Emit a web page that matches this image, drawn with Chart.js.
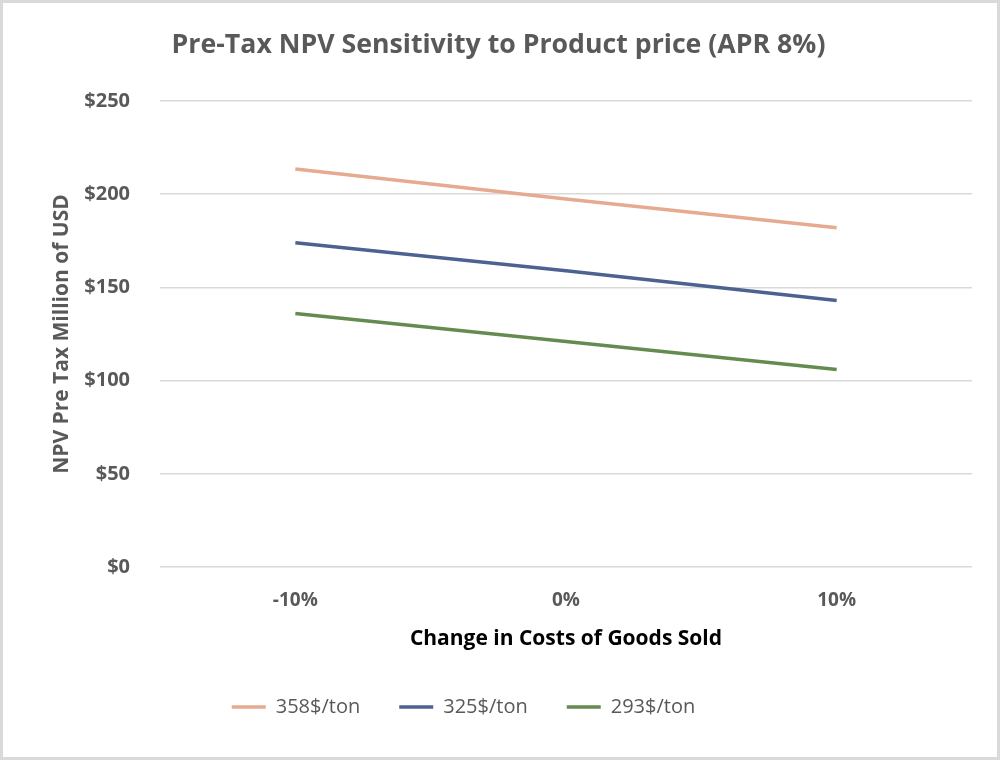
<!DOCTYPE html>
<html>
<head>
<meta charset="utf-8">
<script src="https://cdn.jsdelivr.net/npm/chart.js@4/dist/chart.umd.min.js"></script>
<style>
  html, body { margin: 0; padding: 0; background: #ffffff; }
  #wrap { width: 1000px; height: 760px; box-sizing: border-box; border: 3px solid #d9d9d9; background: #fff; }
  canvas { display: block; }
</style>
</head>
<body>
<div id="wrap"><canvas id="c" width="994" height="754"></canvas></div>
<script>
const categories = ["-10%", "0%", "10%"];
const seriesNames = ["358$/ton", "325$/ton", "293$/ton"];
const price358 = [213.5, 197.5, 182];
const price325 = [174, 159, 143];
const price293 = [136, 121, 106];
const colors = ["#E6AA90", "#4C6291", "#648C50"];
const yTicks = [0, 50, 100, 150, 200, 250];

const FONT = "'Open Sans', 'Noto Sans', sans-serif";

const datasets = [price358, price325, price293].map((d, i) => ({
  label: seriesNames[i],
  data: d,
  borderColor: colors[i],
  backgroundColor: colors[i],
  borderWidth: 3.5,
  pointRadius: 0,
  pointHoverRadius: 0,
  tension: 0,
  fill: false
}));

// shift the legend and title blocks horizontally after layout
const shiftBlocks = {
  id: 'shiftBlocks',
  afterLayout(chart) {
    if (chart.legend) { chart.legend.left -= 44; chart.legend.right -= 44; }
    if (chart.titleBlock) { chart.titleBlock.left -= 9; chart.titleBlock.right -= 9; }
  }
};

new Chart(document.getElementById('c'), {
  type: 'line',
  data: { labels: categories, datasets },
  plugins: [shiftBlocks],
  options: {
    responsive: false,
    animation: false,
    events: [],
    layout: { padding: { left: 40, right: 25, top: 0, bottom: 30 } },
    plugins: {
      title: {
        display: true,
        text: 'Pre-Tax NPV Sensitivity to Product price (APR 8%)',
        color: '#595959',
        font: { family: FONT, size: 26.7, weight: 'bold' },
        padding: { top: 26, bottom: 40 }
      },
      legend: {
        position: 'bottom',
        labels: {
          usePointStyle: true,
          pointStyle: 'line',
          pointStyleWidth: 34,
          boxHeight: 4,
          padding: 39,
          color: '#595959',
          font: { family: FONT, size: 20 }
        }
      },
      tooltip: { enabled: false }
    },
    scales: {
      x: {
        offset: true,
        grid: { display: false, drawTicks: false },
        border: { display: false },
        ticks: {
          color: '#595959',
          font: { family: FONT, size: 19, weight: 'bold' },
          padding: 22
        },
        title: {
          display: true,
          text: 'Change in Costs of Goods Sold',
          color: '#000000',
          font: { family: FONT, size: 21, weight: 'bold' },
          padding: { top: -7, bottom: 6 }
        }
      },
      y: {
        min: 0,
        max: 250,
        afterBuildTicks: (s) => { s.ticks = yTicks.map(v => ({ value: v })); },
        afterFit: (s) => { s.width = 117; },
        grid: { color: '#d9d9d9', lineWidth: 1.5, drawTicks: false },
        border: { display: false },
        ticks: {
          color: '#595959',
          font: { family: FONT, size: 20, weight: 'bold' },
          padding: 30,
          callback: (v) => '$' + v
        },
        title: {
          display: true,
          text: 'NPV Pre Tax Million of USD',
          color: '#595959',
          font: { family: FONT, size: 21, weight: 'bold' },
          padding: { top: 6, bottom: 0 }
        }
      }
    }
  }
});
</script>
</body>
</html>
